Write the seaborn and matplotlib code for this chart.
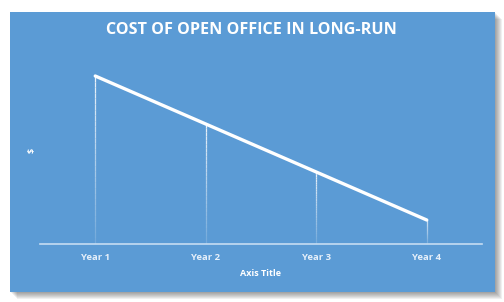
import matplotlib
matplotlib.use("Agg")
import matplotlib.pyplot as plt
import seaborn as sns
import pandas as pd
import numpy as np
from matplotlib.patches import Rectangle

categories = ["Year 1", "Year 2", "Year 3", "Year 4"]
cost = [3.5, 2.5, 1.5, 0.5]
title = "COST OF OPEN OFFICE IN LONG-RUN"
x_title = "Axis Title"
y_title = "$"

sns.set_theme(style="white")
plt.rcParams['font.family'] = ['Open Sans', 'DejaVu Sans']

W, H = 504, 302
fig = plt.figure(figsize=(W / 100, H / 100), dpi=100)
fig.patch.set_facecolor("white")

blue = "#5B9BD5"
# panel shadow
px0, py0, px1, py1 = 10, 12, 495, 292
for i in range(1, 8):
    fig.patches.append(Rectangle(((px0 + i) / W, 1 - (py1 + i) / H), (px1 - px0) / W, (py1 - py0) / H,
                                 transform=fig.transFigure, facecolor="black",
                                 alpha=0.06, edgecolor="none", zorder=0))
fig.patches.append(Rectangle((px0 / W, 1 - py1 / H), (px1 - px0) / W, (py1 - py0) / H,
                             transform=fig.transFigure, facecolor=blue, edgecolor="none", zorder=1))

ax = fig.add_axes([40 / W, 1 - 244 / H, 442 / W, (244 - 52) / H])
ax.set_facecolor("none")
ax.set_zorder(2)

df = pd.DataFrame({"year": categories, "cost": cost})
xpos = np.arange(len(categories))

# drop lines with fading gradient
nseg = 30
for x, v in zip(xpos, cost):
    edges = np.linspace(0, v, nseg + 1)
    for k in range(nseg):
        a = 0.15 + 0.75 * (k / nseg)
        ax.plot([x, x], [edges[k], edges[k + 1]], color="white", alpha=a, lw=0.9,
                solid_capstyle="butt", zorder=2)

sns.lineplot(data=df, x="year", y="cost", ax=ax, color="white", lw=2.4, sort=False, zorder=3)

ax.set_xlim(-0.5, 3.5)
ax.set_ylim(0, 4)
for s in ["top", "right", "left"]:
    ax.spines[s].set_visible(False)
ax.spines["bottom"].set_color("#C5DDF2")
ax.spines["bottom"].set_linewidth(1.2)
ax.set_yticks([])
ax.set_xticks(xpos)
ax.set_xticklabels(categories)
ax.tick_params(axis="x", length=0, pad=6.5, labelsize=6.8, labelcolor="#E6F0FA")
for t in ax.get_xticklabels():
    t.set_fontweight("bold")
ax.set_xlabel(x_title, color="white", fontsize=6.5, fontweight="bold", labelpad=5)
ax.set_ylabel("")

fig.text(32 / W, 1 - 150 / H, y_title, color="white", fontsize=6.5, fontweight="bold",
         rotation=90, ha="center", va="center")
fig.text(251 / W, 1 - 30 / H, title, color="white", fontsize=11.6, fontweight="bold",
         ha="center", va="center")

fig.savefig("out.png", dpi=100)
